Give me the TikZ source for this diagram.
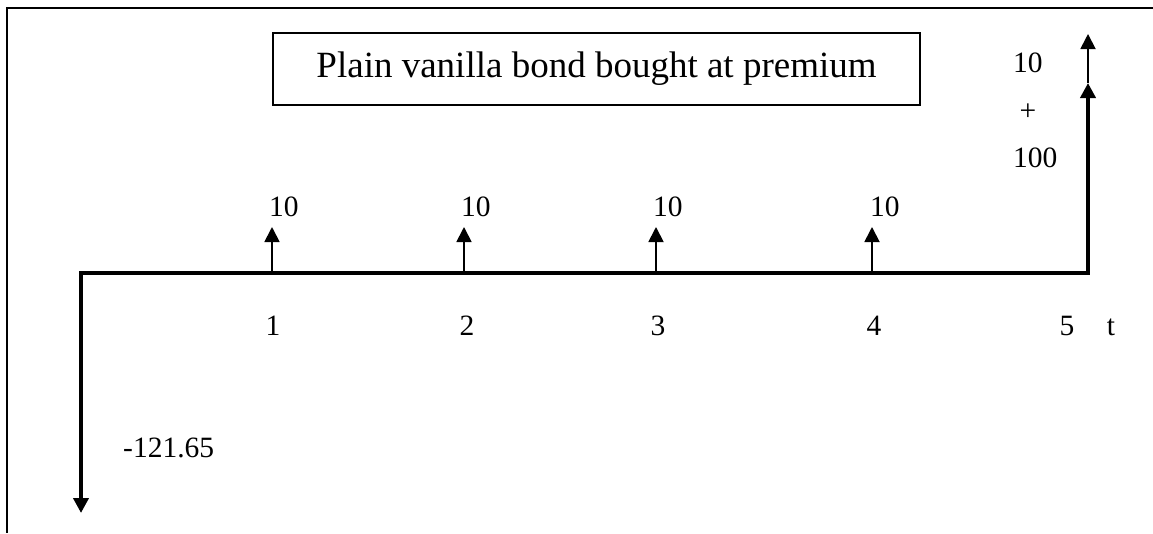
\documentclass[tikz,border=0pt]{standalone}
\usepackage{fontspec}
\setmainfont{Liberation Serif}
\usetikzlibrary{arrows.meta}
\begin{document}
\begin{tikzpicture}[x=1pt,y=-1pt,
  frameline/.style={line width=2pt},
  axisline/.style={line width=4pt,line join=miter},
  flowarrow/.style={line width=1.8pt,-{Triangle[width=15pt,length=15pt]}},
  titlebox/.style={draw,line width=2pt,minimum width=647pt,minimum height=72pt,inner sep=0pt,font=\fontsize{37}{44}\selectfont},
  lbl/.style={inner sep=0pt,font=\fontsize{29.5}{35}\selectfont}]
\useasboundingbox (0,0) rectangle (1153,533);
% frame
\coordinate (fa) at (1153,8);
\coordinate (fb) at (7,8);
\coordinate (fc) at (7,533);
\draw[frameline] (fa) -- (fb) -- (fc);
% title
\node[titlebox] (title) at (596.5,69) {Plain vanilla bond bought at premium};
% axis points
\coordinate (t0) at (81,273);
\coordinate (t1) at (272,273);
\coordinate (t2) at (464,273);
\coordinate (t3) at (656,273);
\coordinate (t4) at (872,273);
\coordinate (t5) at (1088,273);
\coordinate (d0) at (81,513);
\coordinate (c1) at (272,227);
\coordinate (c2) at (464,227);
\coordinate (c3) at (656,227);
\coordinate (c4) at (872,227);
\coordinate (p5) at (1088,83);
\coordinate (q5) at (1088,34);
% thick time line with initial outflow and final inflow
\draw[axisline,{Triangle[width=15pt,length=15pt]}-{Triangle[width=15pt,length=15pt]}] (d0) -- (t0) -- (t5) -- (p5);
\draw[flowarrow] (p5) -- (q5);
% coupons
\draw[flowarrow] (t1) -- (c1);
\draw[flowarrow] (t2) -- (c2);
\draw[flowarrow] (t3) -- (c3);
\draw[flowarrow] (t4) -- (c4);
% coupon labels
\node[lbl,anchor=base west] (v1) at (269,216) {10};
\node[lbl,anchor=base west] (v2) at (461,216) {10};
\node[lbl,anchor=base west] (v3) at (653,216) {10};
\node[lbl,anchor=base west] (v4) at (870,216) {10};
% final labels
\node[lbl,anchor=base west] (f1) at (1013,72) {10};
\node[lbl] (f2) at (1028,112) {+};
\node[lbl,anchor=base west] (f3) at (1013,167) {100};
% time labels
\node[lbl,anchor=base] (n1) at (273,335) {1};
\node[lbl,anchor=base] (n2) at (467,335) {2};
\node[lbl,anchor=base] (n3) at (658,335) {3};
\node[lbl,anchor=base] (n4) at (874,335) {4};
\node[lbl,anchor=base] (n5) at (1067,335) {5};
\node[lbl,anchor=base] (nt) at (1111,335) {t};
% price
\node[lbl,anchor=base west] (pr) at (123,457) {-121.65};
\end{tikzpicture}
\end{document}
